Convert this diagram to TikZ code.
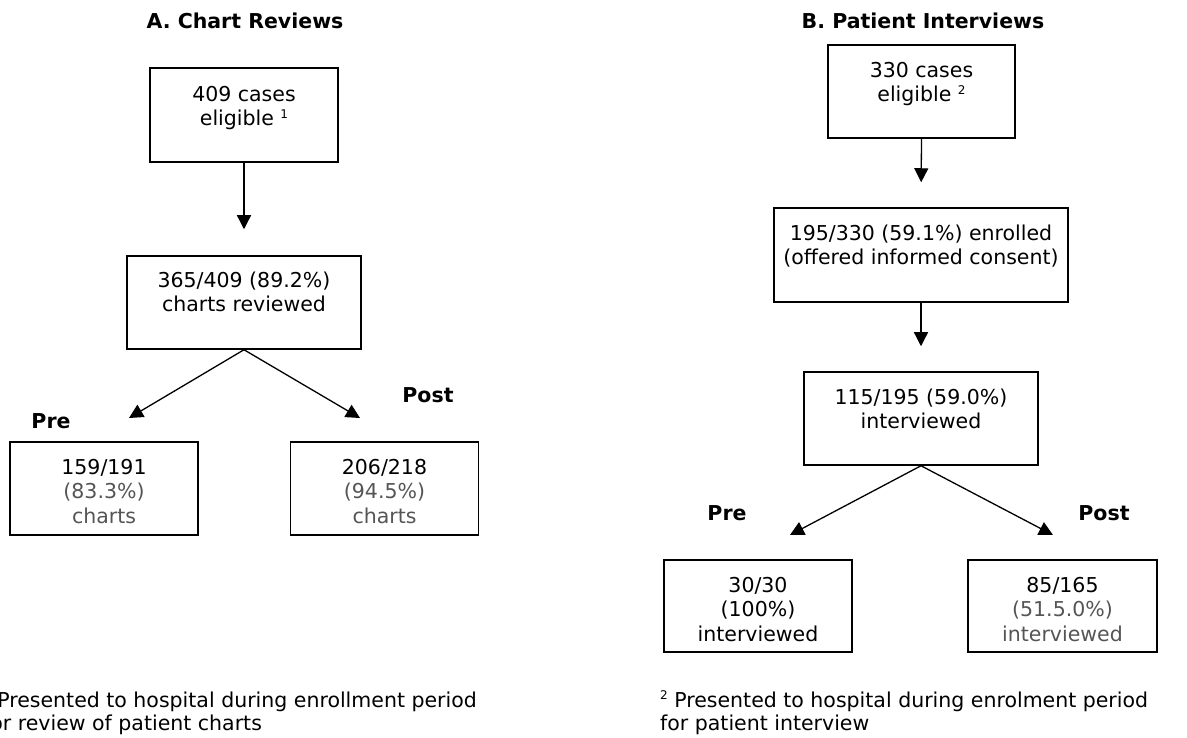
\documentclass[tikz,border=0pt]{standalone}
\usepackage{fontspec}
\setmainfont{DejaVu Sans}
\usetikzlibrary{arrows.meta}
\definecolor{tg}{RGB}{85,85,85}
\newcommand\mysup[1]{\raisebox{7.5pt}{\fontsize{12}{12}\selectfont #1}}
\newcommand\fl{\rule{0pt}{16pt}}
\begin{document}
\begin{tikzpicture}[x=1pt,y=-1pt,
  box/.style args={#1x#2}{draw, line width=1.5pt, inner sep=0pt, minimum width=#1pt, minimum height=#2pt},
  txt/.style={align=center, inner sep=0pt, anchor=north, font=\fontsize{20.5}{24.5}\selectfont},
  ttl/.style={inner sep=0pt, anchor=base, font=\fontsize{20.5}{24}\selectfont\bfseries},
  lbl/.style={inner sep=0pt, anchor=base, font=\fontsize{20.5}{24}\selectfont\bfseries},
  fn/.style={inner sep=0pt, anchor=base west, font=\fontsize{20.5}{24}\selectfont},
  arr/.style={line width=1.3pt, -{Triangle[length=14pt,width=14pt]}}
]
\useasboundingbox (0,0) rectangle (1187,738);
\clip (0,0) rectangle (1187,738);
\fill[white] (0,0) rectangle (1187,738);

% ---------- A. Chart Reviews ----------
\node[ttl] (tA) at (245,29) {A. Chart Reviews};

\node[box=188x94] (a1) at (244,115) {};
\node[txt] (a1t) at (244,85) {\fl 409 cases\\eligible \mysup{1}};

\node[box=234x93] (a2) at (244,302.5) {};
\node[txt] (a2t) at (244,271) {\fl 365/409 (89.2\%)\\charts reviewed};

\node[box=188x93] (apre) at (104,488.5) {};
\node[txt] (apret) at (104,458) {\fl 159/191\\\textcolor{tg}{(83.3\%)}\\\textcolor{tg}{charts}};

\node[box=188x93] (apost) at (384.5,488.5) {};
\node[txt] (apostt) at (384.5,458) {\fl 206/218\\\textcolor{tg}{(94.5\%)}\\\textcolor{tg}{charts}};

\node[lbl] (lApre) at (51,428) {Pre};
\node[lbl] (lApost) at (428,402) {Post};

\coordinate (aL) at (129,418);
\coordinate (aR) at (360,418);
\draw[arr, shorten >=26pt] (a1.south) -- (a2.north);
\draw[arr] (a2.south) -- (aL);
\draw[arr] (a2.south) -- (aR);

\node[fn] (fA1) at (-17,707) {\mysup{1} Presented to hospital during enrollment period};
\node[fn] (fA2) at (-17,730) {for review of patient charts};

% ---------- B. Patient Interviews ----------
\node[ttl] (tB) at (923,29) {B. Patient Interviews};

\node[box=187x93] (b1) at (921.5,91.5) {};
\node[txt] (b1t) at (921.5,61) {\fl 330 cases\\eligible \mysup{2}};

\node[box=294x94] (b2) at (921,255) {};
\node[txt] (b2t) at (921,224) {\fl 195/330 (59.1\%) enrolled\\(offered informed consent)};

\node[box=234x93] (b3) at (921,418.5) {};
\node[txt] (b3t) at (921,388) {\fl 115/195 (59.0\%)\\interviewed};

\node[box=188x92] (bpre) at (758,606) {};
\node[txt] (bpret) at (758,576) {\fl 30/30\\(100\%)\\interviewed};

\node[box=189x92] (bpost) at (1062.5,606) {};
\node[txt] (bpostt) at (1062.5,576) {\fl 85/165\\\textcolor{tg}{(51.5.0\%)}\\\textcolor{tg}{interviewed}};

\node[lbl] (lBpre) at (727,520) {Pre};
\node[lbl] (lBpost) at (1104,520) {Post};

\coordinate (bL) at (790,535);
\coordinate (bR) at (1053,535);
\draw[arr, shorten >=25pt] (b1.south) -- (b2.north);
\draw[arr, shorten >=25pt] (b2.south) -- (b3.north);
\draw[arr] (b3.south) -- (bL);
\draw[arr] (b3.south) -- (bR);

\node[fn] (fB1) at (660,707) {\mysup{2} Presented to hospital during enrolment period};
\node[fn] (fB2) at (660,730) {for patient interview};
\end{tikzpicture}
\end{document}
